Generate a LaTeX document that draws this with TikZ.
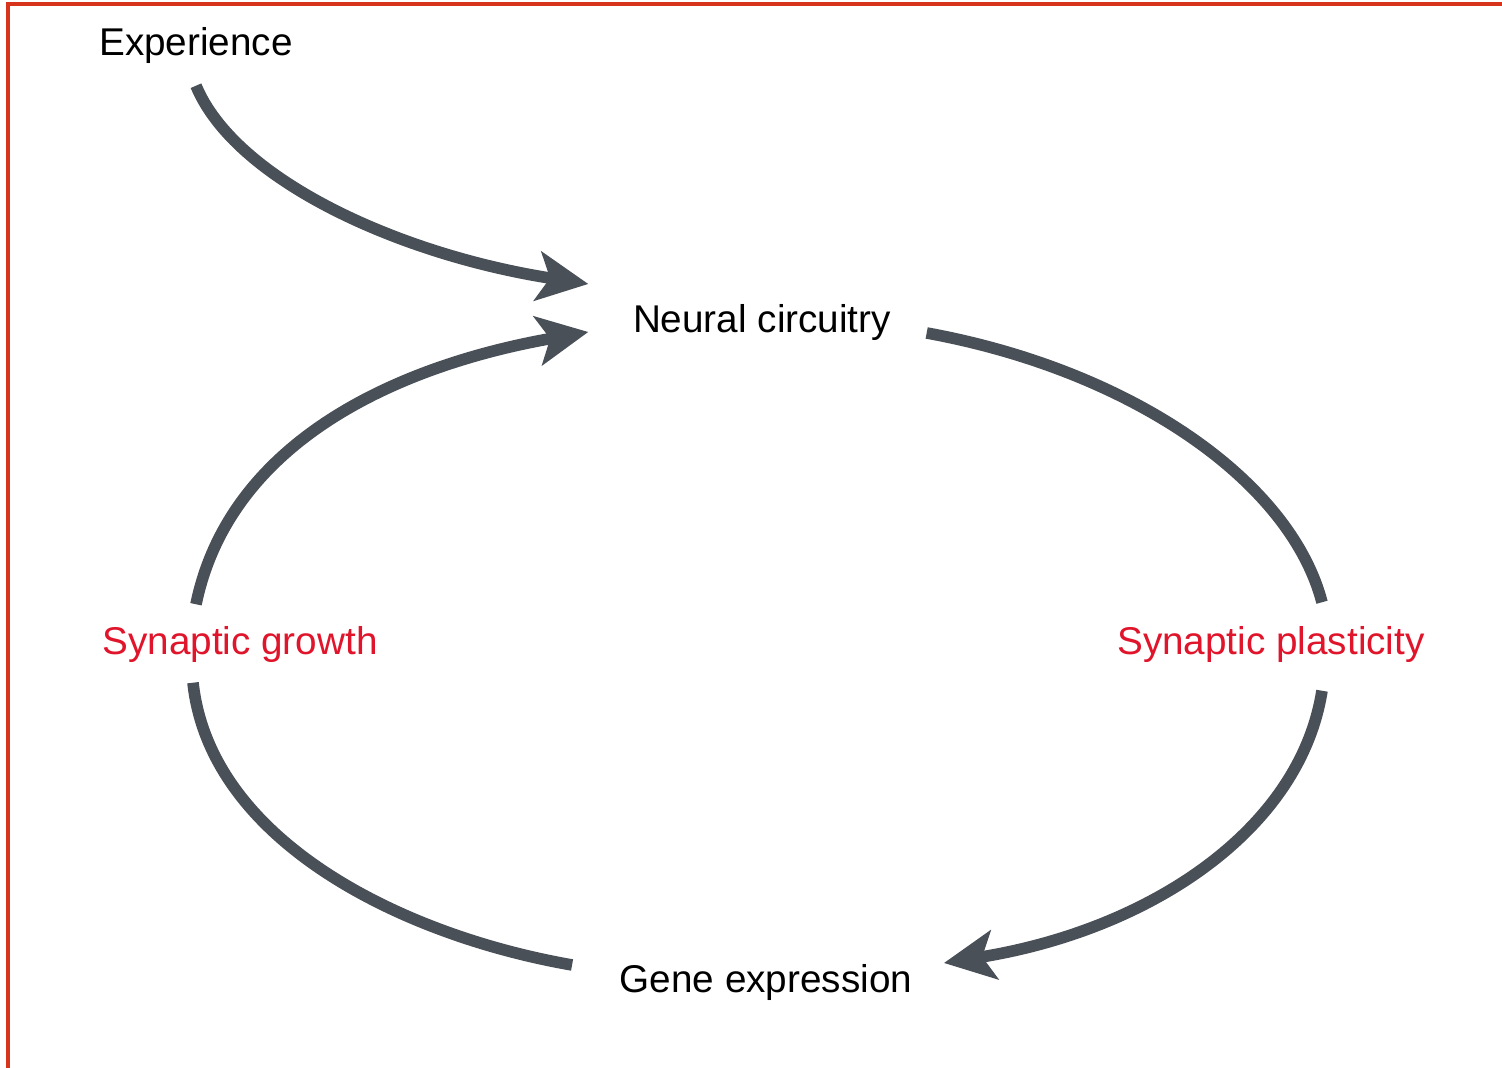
\documentclass[tikz,border=0pt]{standalone}
\usepackage{fontspec}
\setmainfont{Liberation Sans}
\usetikzlibrary{arrows.meta, calc}
\definecolor{loopgray}{HTML}{4A5058}
\definecolor{loopred}{HTML}{E0142A}
\definecolor{framered}{HTML}{D8341C}

\begin{document}
\begin{tikzpicture}[x=0.01cm, y=-0.01cm, font=\fontsize{11}{13}\selectfont,
    lbl/.style={inner sep=0pt, anchor=base},
    flow/.style={draw=loopgray, line width=3.3pt},
    flowtip/.style={flow, -{Stealth[length=14.5pt, width=14pt, inset=3.5pt]}}
]
  \useasboundingbox (0,0) rectangle (1502,1068);
  % Frame
  \draw[framered, line width=0.9pt] (1502,4) -- (8,4) -- (8,1068);

  \node[lbl] (exp) at (196,56) {Experience};
  \node[lbl] (nc) at (762,333) {Neural circuitry};
  \node[lbl, text=loopred] (sg) at (240,655) {Synaptic growth};
  \node[lbl, text=loopred] (sp) at (1271,655) {Synaptic plasticity};
  \node[lbl] (ge) at (766,993) {Gene expression};

  \draw[flowtip] ($(exp.south)+(0,21)$) .. controls (235,180) and (400,255) .. ($(nc.west)+(-44,-39)$);
  \draw[flowtip] ($(sg.north)+(-44,-22)$) .. controls (230,440) and (400,365) .. ($(nc.west)+(-44,9)$);
  \draw[flow] ($(nc.east)+(35,10)$) .. controls (1130,370) and (1290,480) .. ($(sp.north)+(51,-24)$);
  \draw[flowtip] ($(sp.south)+(51,27)$) .. controls (1300,830) and (1150,930) .. ($(ge.east)+(31,-20)$);
  \draw[flow] ($(sg.south)+(-47,19)$) .. controls (210,840) and (400,935) .. ($(ge.west)+(-47,-18)$);
\end{tikzpicture}
\end{document}
